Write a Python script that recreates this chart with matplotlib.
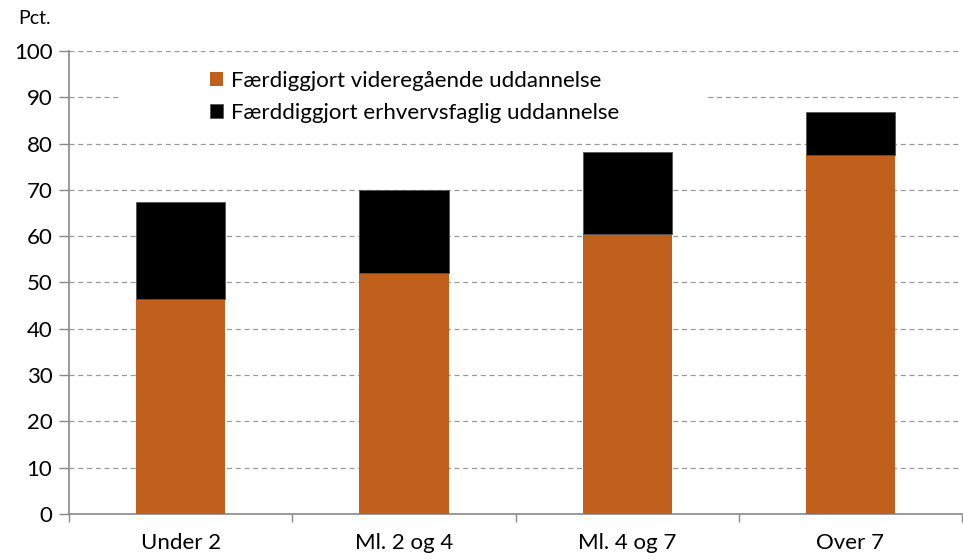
import matplotlib
matplotlib.use("Agg")
import matplotlib.pyplot as plt
import matplotlib.patches as mpatches
import numpy as np

categories = ["Under 2", "Ml. 2 og 4", "Ml. 4 og 7", "Over 7"]
videregaaende = [46.4, 52.0, 60.5, 77.5]
total = [67.3, 70.0, 78.1, 86.8]
erhverv = [t - v for t, v in zip(total, videregaaende)]
yticks = [0, 10, 20, 30, 40, 50, 60, 70, 80, 90, 100]

plt.rcParams['font.family'] = ['Lato', 'DejaVu Sans']

fig = plt.figure(figsize=(9.63, 5.59), dpi=100)
ax = fig.add_axes([0.0717, 0.0805, 0.9273, 0.8283])

x = np.arange(len(categories))
ax.bar(x, videregaaende, width=0.4, color="#C0601C", label="Færdiggjort videregående uddannelse", zorder=3)
ax.bar(x, erhverv, bottom=videregaaende, width=0.4, color="#000000", edgecolor="#555555", linewidth=0.6,
       label="Færddiggjort erhvervsfaglig uddannelse", zorder=3)

ax.set_xlim(-0.5, len(categories) - 0.5)
ax.set_ylim(0, 100)
ax.set_yticks(yticks)
ax.set_yticklabels([str(t) for t in yticks], fontsize=16)
ax.yaxis.grid(True, linestyle=(0, (4, 3)), color="#999999", linewidth=0.9, zorder=0)
ax.set_axisbelow(True)

ax.set_xticks(x)
ax.set_xticklabels(categories, fontsize=16)
ax.tick_params(axis='x', length=0, pad=14)
ax.set_xticks(np.arange(-0.5, len(categories), 1.0), minor=True)
ax.tick_params(axis='x', which='minor', length=6, color="#888888", width=1)
ax.tick_params(axis='y', length=7, color="#888888", width=1, pad=5)

for s in ['top', 'right']:
    ax.spines[s].set_visible(False)
for s in ['left', 'bottom']:
    ax.spines[s].set_color("#888888")
    ax.spines[s].set_linewidth(1.2)

# white legend area (plot-area legend box) hiding gridline behind it
ax.add_patch(mpatches.Rectangle((0.057, 0.82), 0.655, 0.16, transform=ax.transAxes,
                                facecolor='white', edgecolor='none', zorder=1))

leg = ax.legend(loc='upper left', bbox_to_anchor=(0.133, 1.005), fontsize=16, frameon=False,
                handlelength=0.6, handleheight=0.6, handletextpad=0.35, labelspacing=0.55,
                borderpad=0.5)

fig.text(0.019, 0.967, "Pct.", fontsize=14, ha='left', va='center')

fig.savefig("out.png", dpi=100)
